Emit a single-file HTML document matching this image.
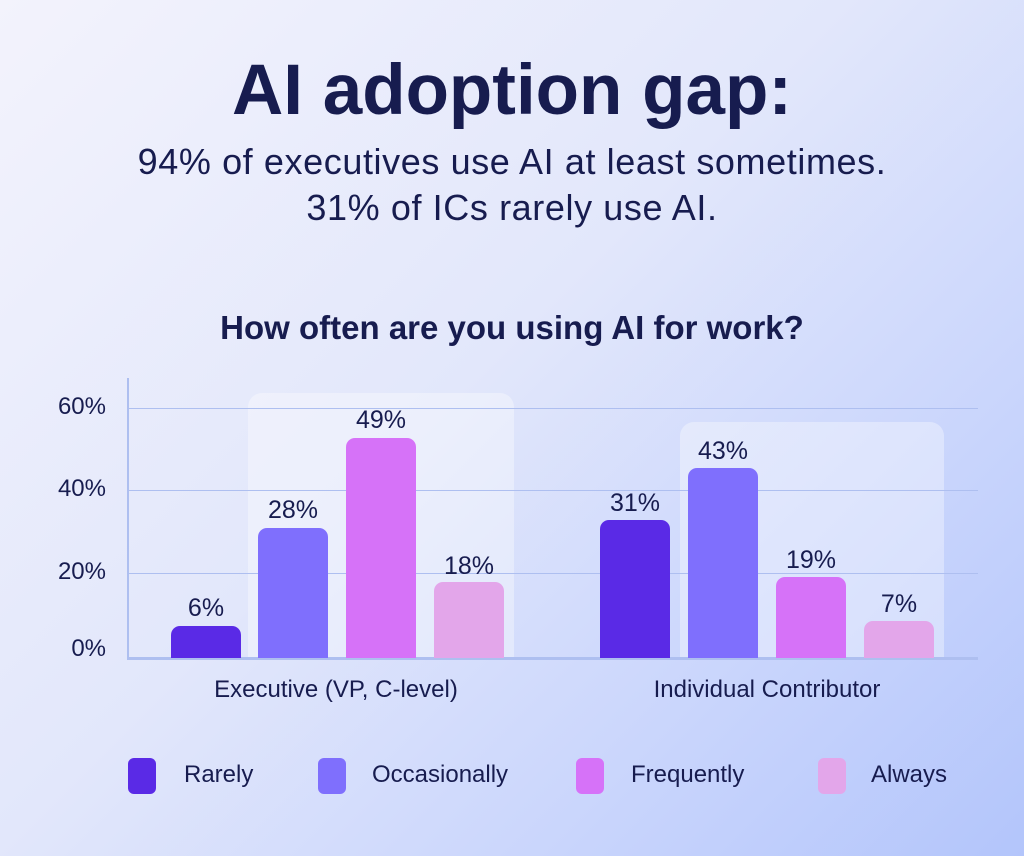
<!DOCTYPE html>
<html><head><style>
body{margin:0;width:1024px;height:856px;overflow:hidden;font-family:"Liberation Sans",sans-serif;color:#171c4f;
background:linear-gradient(135deg,#f3f3fc 0%,#e2e7fb 45%,#c9d5fc 75%,#b3c5fb 100%);position:relative}
.a{position:absolute}
.t{left:0;width:1024px;text-align:center}
.bar{position:absolute;border-radius:9px 9px 0 0;width:70px}
.lbl{position:absolute;width:100px;text-align:center;font-size:25px}
.y{position:absolute;left:36px;width:70px;text-align:right;font-size:24px}
.g{position:absolute;left:128px;width:850px;height:1px;background:#aebff0}
.sw{position:absolute;top:758px;width:28px;height:36px;border-radius:6px}
.lt{position:absolute;top:761px;font-size:24px}
</style></head><body>
<div class="a t" style="top:50px;font-size:71px;font-weight:bold;letter-spacing:0px">AI adoption gap:</div>
<div class="a t" style="top:139px;font-size:36px;line-height:46px;letter-spacing:0.6px">94% of executives use AI at least sometimes.<br>31% of ICs rarely use AI.</div>
<div class="a t" style="top:309px;font-size:33px;font-weight:bold">How often are you using AI for work?</div>
<div class="a" style="left:248px;top:393px;width:266px;height:265px;background:rgba(255,255,255,0.35);border-radius:14px 14px 0 0"></div>
<div class="a" style="left:680px;top:422px;width:264px;height:236px;background:rgba(255,255,255,0.35);border-radius:14px 14px 0 0"></div>
<div class="g" style="top:408px"></div><div class="g" style="top:490px"></div><div class="g" style="top:573px"></div>
<div class="a" style="left:127px;top:378px;width:2px;height:281px;background:#aebff0"></div>
<div class="a" style="left:127px;top:657px;width:851px;height:3px;background:#aebff0"></div>
<div class="y" style="top:393px">60%</div><div class="y" style="top:475px">40%</div><div class="y" style="top:558px">20%</div><div class="y" style="top:635px">0%</div>
<div class="bar" style="left:171px;top:626px;height:32px;background:#5a2ae6"></div>
<div class="bar" style="left:258px;top:528px;height:130px;background:#7f6ffd"></div>
<div class="bar" style="left:346px;top:438px;height:220px;background:#d672f8"></div>
<div class="bar" style="left:434px;top:582px;height:76px;background:#e3a6ea"></div>
<div class="bar" style="left:600px;top:520px;height:138px;background:#5a2ae6"></div>
<div class="bar" style="left:688px;top:468px;height:190px;background:#7f6ffd"></div>
<div class="bar" style="left:776px;top:577px;height:81px;background:#d672f8"></div>
<div class="bar" style="left:864px;top:621px;height:37px;background:#e3a6ea"></div>
<div class="lbl" style="left:156px;top:594px">6%</div>
<div class="lbl" style="left:243px;top:496px">28%</div>
<div class="lbl" style="left:331px;top:406px">49%</div>
<div class="lbl" style="left:419px;top:552px">18%</div>
<div class="lbl" style="left:585px;top:489px">31%</div>
<div class="lbl" style="left:673px;top:437px">43%</div>
<div class="lbl" style="left:761px;top:546px">19%</div>
<div class="lbl" style="left:849px;top:590px">7%</div>
<div class="a" style="left:151px;width:370px;text-align:center;top:676px;font-size:24px">Executive (VP, C-level)</div>
<div class="a" style="left:582px;width:370px;text-align:center;top:676px;font-size:24px">Individual Contributor</div>
<div class="sw" style="left:128px;background:#5a2ae6"></div><div class="lt" style="left:184px">Rarely</div>
<div class="sw" style="left:318px;background:#7f6ffd"></div><div class="lt" style="left:372px">Occasionally</div>
<div class="sw" style="left:576px;background:#d672f8"></div><div class="lt" style="left:631px">Frequently</div>
<div class="sw" style="left:818px;background:#e3a6ea"></div><div class="lt" style="left:871px">Always</div>
</body></html>
